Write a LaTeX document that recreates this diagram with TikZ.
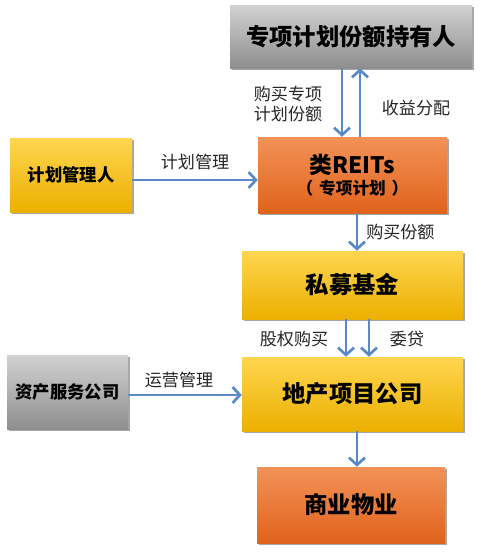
\documentclass[tikz,border=0pt]{standalone}
\usepackage{fontspec}
\setmainfont{Noto Sans CJK SC}
\usetikzlibrary{arrows.meta,shadows}
\definecolor{arrowblue}{HTML}{5A8AC6}
\definecolor{gtop}{HTML}{D2D2D2}
\definecolor{gbot}{HTML}{8E8E8E}
\definecolor{ytop}{HTML}{FFD650}
\definecolor{ybot}{HTML}{EBB000}
\definecolor{otop}{HTML}{F39258}
\definecolor{obot}{HTML}{E0631C}
\tikzset{
  box/.style={rectangle, inner sep=0pt, align=center, font=\bfseries,
    drop shadow={shadow xshift=1.5pt, shadow yshift=-1.5pt, opacity=0.35, fill=black}},
  graybox/.style={box, top color=gtop, bottom color=gbot},
  yellowbox/.style={box, top color=ytop, bottom color=ybot},
  orangebox/.style={box, top color=otop, bottom color=obot},
  arr/.style={draw=arrowblue, line width=2.2pt, -{Straight Barb[length=5.5pt,width=12pt,line width=2pt]}},
  lbl/.style={font=\fontsize{12.8pt}{15.5pt}\selectfont, text=black!85, align=center, inner sep=0pt}
}
\begin{document}
\begin{tikzpicture}[x=0.75pt,y=-0.75pt]
\useasboundingbox (0,0) rectangle (500,553);
\fill[white] (0,0) rectangle (500,553);
\node[graybox, minimum width=181.5pt, minimum height=47.25pt, font=\bfseries\fontsize{17.5pt}{20pt}\selectfont] (holder) at (351,36.5) {专项计划份额持有人};
\node[orangebox, minimum width=141.75pt, minimum height=57pt] (reits) at (352.5,175)
  {{\fontsize{17pt}{19pt}\selectfont 类REITs}\\[2pt]{\fontsize{12.5pt}{15pt}\selectfont （\hspace{0.35em}专项计划\hspace{0.35em}）}};
\node[yellowbox, minimum width=91.5pt, minimum height=55.5pt, font=\bfseries\fontsize{13pt}{15pt}\selectfont] (mgr) at (71,175) {计划管理人};
\node[yellowbox, minimum width=165.75pt, minimum height=51pt, font=\bfseries\fontsize{17.5pt}{20pt}\selectfont] (fund) at (352.5,285) {私募基金};
\node[yellowbox, minimum width=165.75pt, minimum height=55.5pt, font=\bfseries\fontsize{17.5pt}{20pt}\selectfont] (proj) at (352.5,394) {地产项目公司};
\node[graybox, minimum width=90.75pt, minimum height=55.5pt, font=\bfseries\fontsize{13pt}{15pt}\selectfont] (asset) at (67.5,392) {资产服务公司};
\node[orangebox, minimum width=141pt, minimum height=57pt, font=\bfseries\fontsize{17.5pt}{20pt}\selectfont] (comm) at (351,505) {商业物业};

% holder <-> reits
\draw[arr] ([xshift=-6.75pt]holder.south) -- ([xshift=-6.75pt]holder.south |- reits.north);
\draw[arr] ([xshift=6.75pt]holder.south |- reits.north) -- ([xshift=6.75pt]holder.south);
\node[lbl] (l1) at (288,104) {购买专项\\计划份额};
\node[lbl] (l2) at (416,108) {收益分配};

% mgr -> reits
\draw[arr] ([yshift=-3.75pt]mgr.east) -- ([yshift=-3.75pt]mgr.east -| reits.west);
\node[lbl] (l3) at (195,162) {计划管理};

% reits -> fund
\draw[arr] ([xshift=3.375pt]reits.south) -- ([xshift=3.375pt]reits.south |- fund.north);
\node[lbl, anchor=west] (l4) at (366,232) {购买份额};

% fund -> proj
\draw[arr] ([xshift=-4.875pt]fund.south) -- ([xshift=-4.875pt]fund.south |- proj.north);
\draw[arr] ([xshift=12.375pt]fund.south) -- ([xshift=12.375pt]fund.south |- proj.north);
\node[lbl] (l5) at (294,339) {股权购买};
\node[lbl] (l6) at (407,339) {委贷};

% asset -> proj
\draw[arr] ([yshift=-2.25pt]asset.east) -- ([yshift=-2.25pt]asset.east -| proj.west);
\node[lbl] (l7) at (179,380) {运营管理};

% proj -> comm
\draw[arr] ([xshift=3.375pt]proj.south) -- ([xshift=3.375pt]proj.south |- comm.north);
\end{tikzpicture}
\end{document}
